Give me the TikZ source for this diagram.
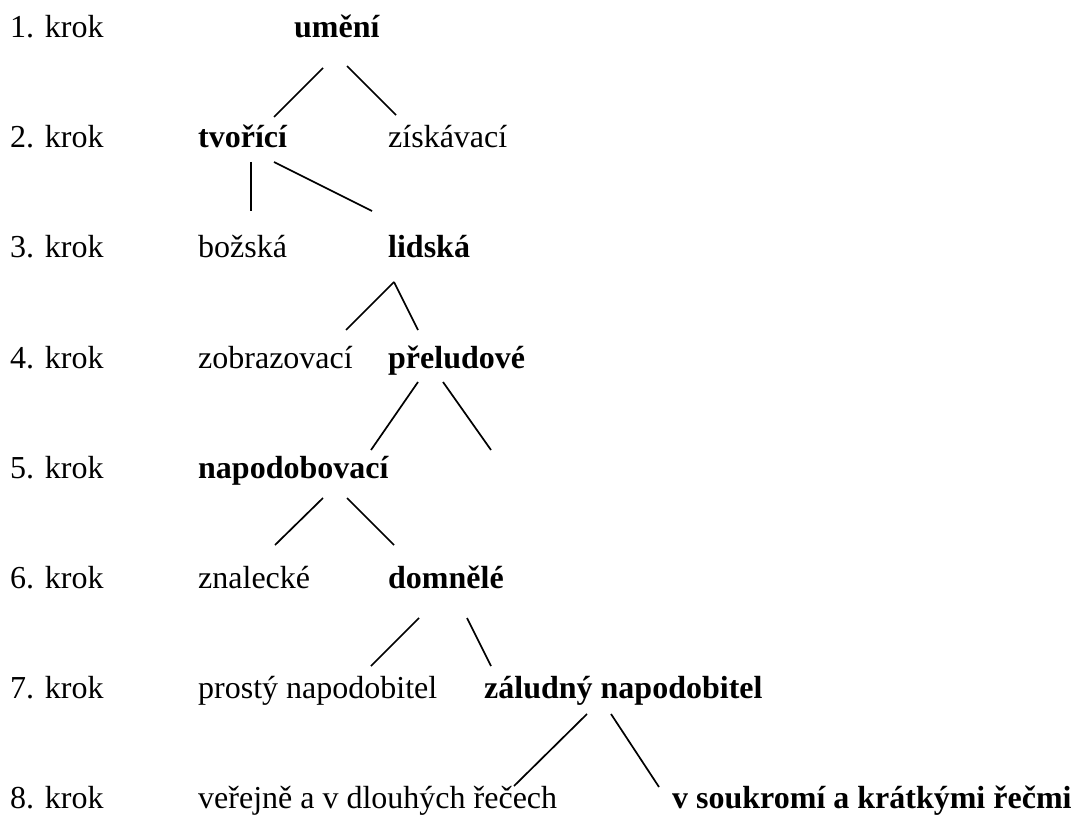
\documentclass[tikz,border=0pt]{standalone}
\usepackage{fontspec}
\setmainfont{LiberationSerif}[Extension=.ttf, UprightFont=*-Regular, BoldFont=*-Bold]
\begin{document}
\begin{tikzpicture}[x=1pt,y=1pt,
  txt/.style={anchor=base west, inner sep=0pt, font=\fontsize{32}{38}\selectfont},
  hl/.style={txt, font=\fontsize{32}{38}\selectfont\bfseries},
  edge/.style={line width=1.7pt}]
\useasboundingbox (0,0) rectangle (1078,-818);

% step labels
\node[txt] (k1) at (10,-38)  {1. krok};
\node[txt] (k2) at (10,-148) {2. krok};
\node[txt] (k3) at (10,-258) {3. krok};
\node[txt] (k4) at (10,-368) {4. krok};
\node[txt] (k5) at (10,-478) {5. krok};
\node[txt] (k6) at (10,-588) {6. krok};
\node[txt] (k7) at (10,-698) {7. krok};
\node[txt] (k8) at (10,-808) {8. krok};

% division tree
\node[hl]  (umeni)     at (294,-38)  {umění};
\node[hl]  (tvorici)   at (198,-148) {tvořící};
\node[txt] (ziskavaci) at (388,-148) {získávací};
\node[txt] (bozska)    at (198,-258) {božská};
\node[hl]  (lidska)    at (388,-258) {lidská};
\node[txt] (zobraz)    at (198,-368) {zobrazovací};
\node[hl]  (preludove) at (388,-368) {přeludové};
\node[hl]  (napod)     at (198,-478) {napodobovací};
\node[txt] (znalecke)  at (198,-588) {znalecké};
\node[hl]  (domnele)   at (388,-588) {domnělé};
\node[txt] (prosty)    at (198,-698) {prostý napodobitel};
\node[hl]  (zaludny)   at (484,-698) {záludný napodobitel};
\node[txt] (verejne)   at (198,-808) {veřejně a v dlouhých řečech};
\node[hl]  (soukromi)  at (672,-808) {v soukromí a krátkými řečmi};
\coordinate (prazdne) at (491,-450);

% branches
\draw[edge] ([shift={(29,-30)}]umeni.base west) -- ([shift={(76,31)}]tvorici.base west);
\draw[edge] ([shift={(53,-28)}]umeni.base west) -- ([shift={(8,33)}]ziskavaci.base west);
\draw[edge] ([shift={(53,-14)}]tvorici.base west) -- ([shift={(53,47)}]bozska.base west);
\draw[edge] ([shift={(76,-14)}]tvorici.base west) -- ([shift={(-16,47)}]lidska.base west);
\draw[edge] ([shift={(6,-24)}]lidska.base west) -- ([shift={(148,38)}]zobraz.base west);
\draw[edge] ([shift={(6,-24)}]lidska.base west) -- ([shift={(30,38)}]preludove.base west);
\draw[edge] ([shift={(30,-14)}]preludove.base west) -- ([shift={(173,28)}]napod.base west);
\draw[edge] ([shift={(55,-14)}]preludove.base west) -- (prazdne);
\draw[edge] ([shift={(125,-20)}]napod.base west) -- ([shift={(77,43)}]znalecke.base west);
\draw[edge] ([shift={(149,-20)}]napod.base west) -- ([shift={(6,43)}]domnele.base west);
\draw[edge] ([shift={(31,-30)}]domnele.base west) -- ([shift={(173,32)}]prosty.base west);
\draw[edge] ([shift={(79,-30)}]domnele.base west) -- ([shift={(7,32)}]zaludny.base west);
\draw[edge] ([shift={(103,-16)}]zaludny.base west) -- ([shift={(316,22)}]verejne.base west);
\draw[edge] ([shift={(127,-16)}]zaludny.base west) -- ([shift={(-13,21)}]soukromi.base west);
\end{tikzpicture}
\end{document}
